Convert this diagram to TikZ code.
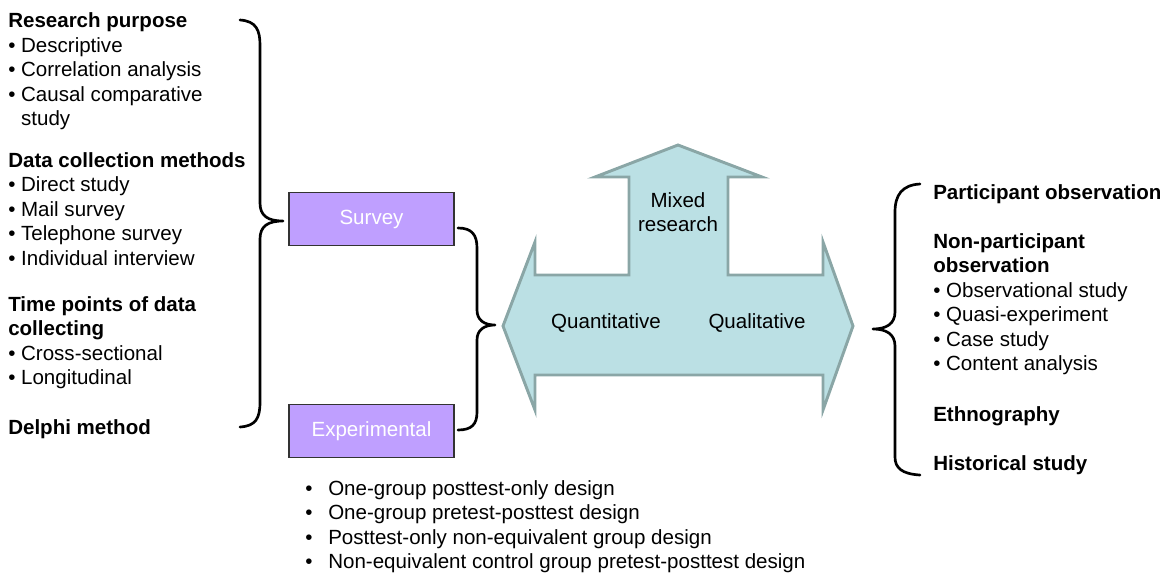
\documentclass[tikz,border=0pt]{standalone}
\usepackage{fontspec}
\setmainfont{Liberation Sans}
\usetikzlibrary{calc}
\definecolor{methodPurple}{RGB}{191,159,255}
\definecolor{arrowFill}{RGB}{187,224,228}
\definecolor{arrowLine}{RGB}{138,166,166}
\newcommand{\bul}{\textbullet\ }
\newcommand{\tabbul}{\makebox[17.25pt][l]{\textbullet}}

\begin{document}
\begin{tikzpicture}[x=0.75pt, y=-0.75pt,
    txt/.style={font=\fontsize{15.4}{18.4}\selectfont, align=left,
                inner sep=0pt, anchor=north west},
    method/.style={rectangle, draw=black!80, line width=1.1pt, fill=methodPurple,
                   minimum width=124pt, minimum height=39.5pt, text=white,
                   font=\fontsize{15.4}{18.4}\selectfont},
    lbl/.style={font=\fontsize{15.4}{18.4}\selectfont, align=center, inner sep=0pt},
    bracket/.style={line width=2pt, line cap=round, line join=round}
  ]
  \useasboundingbox (0,0) rectangle (1160,572);

  % left column
  \node[txt] (purpose) at (8,12.5)
    {\textbf{Research purpose}\\ \bul Descriptive\\ \bul Correlation analysis\\
     \bul Causal comparative\\ \hphantom{\bul}study};
  \node[txt] (collect) at (8,152)
    {\textbf{Data collection methods}\\ \bul Direct study\\ \bul Mail survey\\
     \bul Telephone survey\\ \bul Individual interview};
  \node[txt] (timing) at (8,296)
    {\textbf{Time points of data}\\ \textbf{collecting}\\ \bul Cross-sectional\\
     \bul Longitudinal};
  \node[txt] (delphi) at (8,419) {\textbf{Delphi method}};

  % the two quantitative methods
  \node[method] (survey) at (371.5,219) {Survey};
  \node[method] (experimental) at (371.5,431) {Experimental};

  \node[txt] (designs) at (305,480)
    {\tabbul One-group posttest-only design\\
     \tabbul One-group pretest-posttest design\\
     \tabbul Posttest-only non-equivalent group design\\
     \tabbul Non-equivalent control group pretest-posttest design};

  % three-way arrow
  \draw[fill=arrowFill, draw=arrowLine, line width=2.2pt, line join=miter]
    (503,326) -- (535,242) -- (535,275) -- (629,275) -- (629,177) -- (595,177)
    -- (678,145) -- (762,177) -- (728,177) -- (728,275) -- (823,275) -- (823,242)
    -- (853,326) -- (823,410) -- (823,375) -- (535,375) -- (535,410) -- cycle;
  \node[lbl] (mixed) at (678,212) {Mixed\\research};
  \node[lbl] (quant) at (606,323) {Quantitative};
  \node[lbl] (qual) at (757,323) {Qualitative};

  % right column
  \node[txt] (partic) at (933,184) {\textbf{Participant observation}};
  \node[txt] (nonpartic) at (933,233)
    {\textbf{Non-participant}\\ \textbf{observation}\\ \bul Observational study\\
     \bul Quasi-experiment\\ \bul Case study\\ \bul Content analysis};
  \node[txt] (ethno) at (933,406) {\textbf{Ethnography}};
  \node[txt] (hist) at (933,455) {\textbf{Historical study}};

  % braces
  \coordinate (lb tip) at ($(survey.west)+(-5,2)$);
  \coordinate (mb tip) at (495,325);
  \coordinate (rb tip) at (873,329);
  \draw[bracket] (240,20) .. controls (256,21) and (260,30) .. (260,45)
    -- (260,203) .. controls (260,216) and (268,221) .. (lb tip)
    .. controls (268,221) and (260,226) .. (260,239)
    -- (260,402) .. controls (260,418) and (256,426) .. (240,427);
  \draw[bracket] (458,228) .. controls (472,228) and (477,235) .. (477,248)
    -- (477,310) .. controls (477,320) and (484,325) .. (mb tip)
    .. controls (484,325) and (477,330) .. (477,340)
    -- (477,412) .. controls (477,424) and (472,430) .. (458,430);
  \draw[bracket] (920,184) .. controls (902,185) and (895,195) .. (895,212)
    -- (895,312) .. controls (895,324) and (886,329) .. (rb tip)
    .. controls (886,329) and (895,334) .. (895,346)
    -- (895,457) .. controls (895,468) and (902,474) .. (920,475);
\end{tikzpicture}
\end{document}
